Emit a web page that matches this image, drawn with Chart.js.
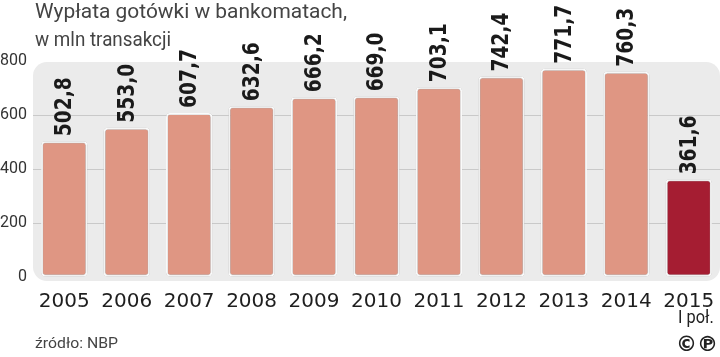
<!DOCTYPE html>
<html>
<head>
<meta charset="utf-8">
<script src="https://cdn.jsdelivr.net/npm/chart.js@4"></script>
<style>
  html, body { margin: 0; padding: 0; background: #fff; }
  #wrap { width: 720px; height: 357px; position: relative; }
</style>
</head>
<body>
<div id="wrap"><canvas id="myChart"></canvas></div>
<script>
// data
const years = ['2005', '2006', '2007', '2008', '2009', '2010', '2011', '2012', '2013', '2014', '2015'];
const withdrawals = [502.8, 553.0, 607.7, 632.6, 666.2, 669.0, 703.1, 742.4, 771.7, 760.3, 361.6];
const yTicks = [0, 200, 400, 600, 800];
const titleLines = ['Wypłata gotówki w bankomatach,', 'w mln transakcji'];
const lastSubLabel = 'I poł.';
const sourceText = 'źródło: NBP';

const barColors = withdrawals.map((v, i) => i === withdrawals.length - 1 ? '#a51d32' : '#df9683');

// draw text squeezed horizontally (the original uses a condensed face)
function narrowText(ctx, txt, x, y, sx) {
    ctx.save();
    ctx.translate(x, y);
    ctx.scale(sx, 1);
    ctx.fillText(txt, 0, 0);
    ctx.restore();
}

// draw text fitted to a given width
function fitText(ctx, txt, x, y, width) {
    const sx = width / ctx.measureText(txt).width;
    narrowText(ctx, txt, x, y, sx);
}

const decorPlugin = {
    id: 'decor',
    beforeDraw(chart) {
        const ctx = chart.ctx;
        const area = chart.chartArea;
        ctx.save();
        ctx.fillStyle = '#ebebeb';
        ctx.beginPath();
        ctx.roundRect(area.left, area.top + 1, chart.width - area.left, area.bottom + 3 - area.top, 14);
        ctx.fill();
        ctx.restore();
    },
    beforeDatasetsDraw(chart) {
        const ctx = chart.ctx;
        ctx.save();
        ctx.shadowColor = 'rgba(0,0,0,0.35)';
        ctx.shadowBlur = 2;
    },
    afterDatasetsDraw(chart) {
        const ctx = chart.ctx;
        ctx.restore();

        // value labels, rotated
        const meta = chart.getDatasetMeta(0);
        ctx.save();
        ctx.fillStyle = '#1a1a1a';
        ctx.font = 'bold 23px "DejaVu Sans"';
        ctx.textAlign = 'left';
        ctx.textBaseline = 'middle';
        meta.data.forEach((bar, i) => {
            const txt = withdrawals[i].toFixed(1).replace('.', ',');
            ctx.save();
            ctx.translate(bar.x + 1, bar.y - 5);
            ctx.rotate(-Math.PI / 2);
            ctx.scale(0.81, 1);
            ctx.fillText(txt, 0, 0);
            ctx.restore();
        });
        ctx.restore();
    },
    afterDraw(chart) {
        const ctx = chart.ctx;
        ctx.save();
        ctx.fillStyle = '#444';
        ctx.textBaseline = 'alphabetic';
        ctx.font = '20px Roboto';
        fitText(ctx, titleLines[0], 35, 18, 312);
        fitText(ctx, titleLines[1], 35, 46, 136);

        ctx.font = '15px Roboto';
        fitText(ctx, sourceText, 35, 348, 83);

        // sub label under the last year
        const xs = chart.scales.x;
        const lastX = xs.getPixelForTick(years.length - 1);
        ctx.fillStyle = '#222';
        ctx.font = '19px Roboto';
        const w = ctx.measureText(lastSubLabel).width * 0.86;
        narrowText(ctx, lastSubLabel, lastX + 25 - w, 323, 0.86);

        ctx.font = 'bold 21px "DejaVu Sans"';
        ctx.textAlign = 'right';
        ctx.fillText('©℗', 718, 351);
        ctx.restore();
    }
};

const ctx = document.getElementById('myChart').getContext('2d');
new Chart(ctx, {
    type: 'bar',
    data: {
        labels: years,
        datasets: [{
            data: withdrawals,
            backgroundColor: barColors,
            borderColor: '#ffffff',
            borderWidth: 2,
            borderRadius: 4,
            borderSkipped: false,
            categoryPercentage: 1,
            barPercentage: 0.74
        }]
    },
    options: {
        responsive: true,
        maintainAspectRatio: false,
        animation: false,
        layout: {
            padding: { top: 61, right: 0, left: 0, bottom: 0 }
        },
        plugins: {
            legend: { display: false },
            tooltip: { enabled: false },
            title: { display: false }
        },
        scales: {
            y: {
                min: 0,
                max: 800,
                afterBuildTicks: (scale) => { scale.ticks = yTicks.map(v => ({ value: v })); },
                afterFit: (scale) => { scale.width = 33; },
                border: { display: false },
                grid: {
                    drawTicks: false,
                    color: (c) => (c.tick && (c.tick.value === 0 || c.tick.value === 800)) ? 'rgba(0,0,0,0)' : '#c9c9c9',
                    lineWidth: 1
                },
                ticks: {
                    padding: 6,
                    color: '#333',
                    font: { family: 'Roboto', size: 16 }
                }
            },
            x: {
                afterFit: (scale) => { scale.height = 80; },
                border: { display: false },
                grid: { display: false },
                ticks: {
                    padding: 5,
                    color: '#1e1e1e',
                    maxRotation: 0,
                    autoSkip: false,
                    font: { family: 'DejaVu Sans', size: 20 }
                }
            }
        }
    },
    plugins: [decorPlugin]
});
</script>
</body>
</html>
